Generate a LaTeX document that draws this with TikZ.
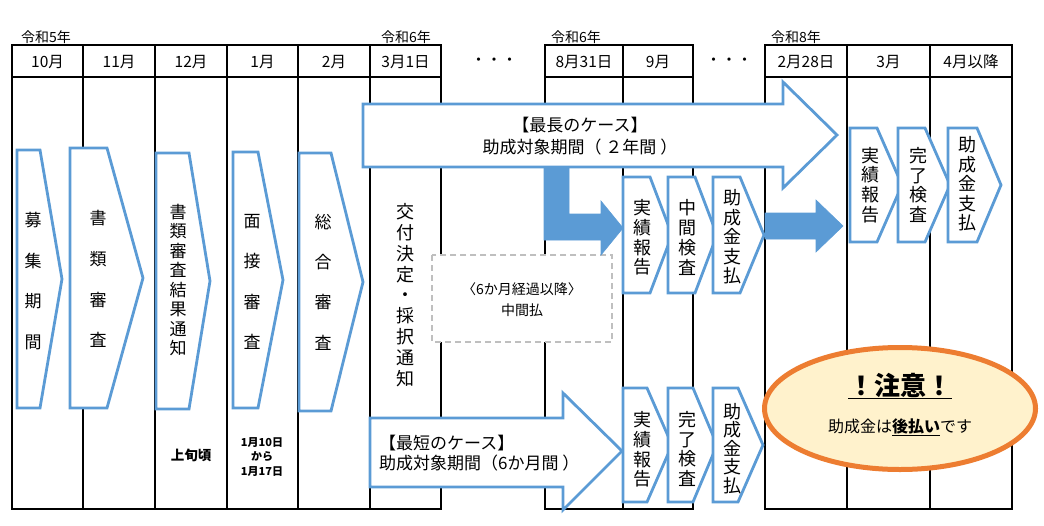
\documentclass[tikz,border=0pt]{standalone}
\usepackage{fontspec}
\setmainfont{Noto Sans CJK JP}
\definecolor{cblue}{HTML}{5B9BD5}
\definecolor{corange}{HTML}{ED7D31}
\definecolor{cfill}{HTML}{FFF2CC}
\definecolor{cgray}{HTML}{BFBFBF}
\newcommand\myfs[2]{\fontsize{#1pt}{#2pt}\selectfont}
\newcommand\mychev[5]{\draw[chev] (#1,#2) -- (#3,#2) -- (#4,{(#2+#5)/2}) -- (#3,#5) -- (#1,#5) -- cycle;}
\begin{document}
\begin{tikzpicture}[x=1pt,y=-1pt,
  grid/.style={line width=1.7pt,black},
  chev/.style={draw=cblue,line width=2.8pt,fill=white,line join=miter},
  blk/.style={fill=cblue,draw=cblue,line width=0.6pt,line join=miter},
  bigarr/.style={draw=cblue,line width=2.8pt,fill=white,line join=miter},
  txt/.style={inner sep=0pt,align=center,text=black},
  head/.style={txt,font=\myfs{15.5}{17}},
  year/.style={txt,font=\myfs{14}{16}},
]
\useasboundingbox (0,0) rectangle (1044,525);
% year labels
\node[year] (y5) at (46,37) {令和5年};
\node[year] (y6a) at (406,37) {令和6年};
\node[year] (y6b) at (576,37) {令和6年};
\node[year] (y8) at (796,37) {令和8年};
% table group A
\draw[grid] (12,45) rectangle (441,509);
\draw[grid] (12,77) -- (441,77);
\foreach \x in {83,155,227,298,370} \draw[grid] (\x,45) -- (\x,509);
% table group B
\draw[grid] (545,45) rectangle (693,509);
\draw[grid] (545,77) -- (693,77);
\draw[grid] (623,45) -- (623,509);
% table group C
\draw[grid] (765,45) rectangle (1012,509);
\draw[grid] (765,77) -- (1012,77);
\foreach \x in {847,930} \draw[grid] (\x,45) -- (\x,509);
% header labels
\node[head] (h1) at (47.5,62) {10月};
\node[head] (h2) at (119,62) {11月};
\node[head] (h3) at (191,62) {12月};
\node[head] (h4) at (262.5,62) {1月};
\node[head] (h5) at (334,62) {2月};
\node[head] (h6) at (405.5,62) {3月1日};
\node[head] (d1) at (494,62) {・・・};
\node[head] (h7) at (584,62) {8月31日};
\node[head] (h8) at (658,62) {9月};
\node[head] (d2) at (729,62) {・・・};
\node[head] (h9) at (806,62) {2月28日};
\node[head] (h10) at (888.5,62) {3月};
\node[head] (h11) at (971,62) {4月以降};
% left chevrons
\mychev{17}{150}{40}{62}{408}
\mychev{70}{148}{107}{143}{408}
\mychev{156}{153}{189}{210}{409}
\mychev{233}{152}{258}{283}{408}
\mychev{299}{153}{331}{363}{411}
\node[txt,font=\myfs{17}{40.7}] (s1) at (33,281) {募\\集\\期\\間};
\node[txt,font=\myfs{17}{40.7}] (s2) at (98,279) {書\\類\\審\\査};
\node[txt,font=\myfs{17}{19.5}] (s3) at (178,280) {書\\類\\審\\査\\結\\果\\通\\知};
\node[txt,font=\myfs{17}{40.3}] (s4) at (252,282) {面\\接\\審\\査};
\node[txt,font=\myfs{17}{40.3}] (s5) at (323,282) {総\\合\\審\\査};
% 交付決定
\node[txt,font=\myfs{18}{20.8}] (kofu) at (405,295) {交\\付\\決\\定\\・\\採\\択\\通\\知};
% dashed box
\draw[cgray,line width=1.8pt,dash pattern=on 6pt off 4pt,fill=white] (432,255) rectangle (612,342);
\node[txt,font=\myfs{14}{21}] (mid) at (522,299.5) {〈6か月経過以降〉\\中間払};
% solid L arrow
\draw[blk] (544,160) -- (569,160) -- (569,214) -- (601,214) -- (601,201) -- (623,228) -- (601,255) -- (601,240) -- (544,240) -- cycle;
% big top arrow
\draw[bigarr] (363,104) -- (783,104) -- (783,82) -- (837,135) -- (783,188) -- (783,167) -- (363,167) -- cycle;
\node[txt,font=\myfs{17}{22}] (longc) at (580,136) {【最長のケース】\\助成対象期間（ ２年間 ）};
% right solid arrow
\draw[blk] (765,213) -- (816,213) -- (816,200) -- (843,226) -- (816,252) -- (816,239) -- (765,239) -- cycle;
% middle chevrons
\mychev{623}{177}{650}{672}{293}
\mychev{668}{177}{695}{717}{293}
\mychev{713}{177}{740}{764}{293}
\node[txt,font=\myfs{18}{19.7}] (m1) at (642,237.5) {実\\績\\報\\告};
\node[txt,font=\myfs{18}{19.7}] (m2) at (687,237.5) {中\\間\\検\\査};
\node[txt,font=\myfs{18}{19.5}] (m3) at (732,237) {助\\成\\金\\支\\払};
% right chevrons
\mychev{850}{128}{877}{902}{242}
\mychev{898}{128}{925}{950}{242}
\mychev{948}{128}{977}{1001}{242}
\node[txt,font=\myfs{18}{19.7}] (r1) at (870,185) {実\\績\\報\\告};
\node[txt,font=\myfs{18}{19.7}] (r2) at (918,185) {完\\了\\検\\査};
\node[txt,font=\myfs{18}{19.5}] (r3) at (967,184) {助\\成\\金\\支\\払};
% bottom arrow
\draw[bigarr] (370,418) -- (563,418) -- (563,393) -- (622,451) -- (563,510) -- (563,487) -- (370,487) -- cycle;
\node[txt,align=left,anchor=west,font=\myfs{17}{20}] (shortc) at (379,453) {【最短のケース】\\助成対象期間（6か月間 ）};
% bottom chevrons
\mychev{623}{388}{647}{672}{502}
\mychev{668}{388}{693}{717}{502}
\mychev{713}{388}{738}{763}{502}
\node[txt,font=\myfs{18}{19.7}] (b1) at (642,449.5) {実\\績\\報\\告};
\node[txt,font=\myfs{18}{19.7}] (b2) at (687,449) {完\\了\\検\\査};
\node[txt,font=\myfs{18}{18.5}] (b3) at (732,448.5) {助\\成\\金\\支\\払};
% bottom notes
\node[txt,font=\myfs{13.5}{15}\bfseries] (jojun) at (191,455) {上旬頃};
\node[txt,font=\myfs{11}{14.5}\bfseries] (dates) at (262,457) {1月10日\\から\\1月17日};
% caution ellipse
\draw[corange,line width=5pt,fill=cfill] (900,408.5) ellipse [x radius=135.5, y radius=61];
\node[txt,font=\myfs{26}{28}\bfseries] (att) at (900,386) {\underline{！注意！}};
\node[txt,font=\myfs{16}{18}] (att2) at (900,427) {助成金は\textbf{\underline{後払い}}です};
\end{tikzpicture}
\end{document}
